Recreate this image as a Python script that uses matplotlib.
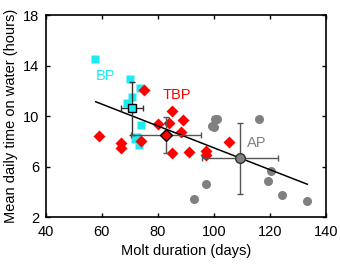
import matplotlib
matplotlib.use("Agg")
import matplotlib.pyplot as plt

plt.rcParams['font.family'] = ['Liberation Sans', 'DejaVu Sans']

# individual birds: molt duration (days), mean daily time on water (hours)
bp_x = [57.6, 70.0, 73.7, 70.9, 69.1, 73.9, 72.5, 73.1, 71.9]
bp_y = [14.5, 12.9, 12.2, 11.5, 11.05, 9.26, 8.36, 7.7, 8.15]

tbp_x = [75.1, 85.0, 80.1, 84.1, 89.1, 88.2, 59.0, 66.8, 66.8, 73.9, 85.0, 91.0, 105.2, 97.0, 97.0]
tbp_y = [12.1, 10.4, 9.34, 9.47, 9.68, 8.7, 8.41, 7.84, 7.44, 8.05, 7.05, 7.17, 7.96, 7.25, 6.9]

ap_x = [100.2, 101.0, 99.2, 99.9, 116.1, 97.0, 93.0, 120.3, 119.3, 124.3, 133.1]
ap_y = [9.8, 9.8, 9.2, 9.1, 9.76, 4.6, 3.4, 5.64, 4.85, 3.74, 3.29]

# group means and SD
mean_x = [70.7, 82.9, 109.3]
mean_y = [10.6, 8.5, 6.65]
sd_x = [3.9, 12.6, 13.6]
sd_y = [2.1, 1.45, 2.83]

# regression line end points (x) and fit
fit_x = [57.8, 133.3]
fit_slope = -0.0865
fit_icpt = 16.13

fig = plt.figure(figsize=(3.4, 2.68), dpi=100)
ax = fig.add_axes([0.135, 0.19, 0.824, 0.754])

cyan = '#1EEAF2'
red = '#FF0000'
grey = '#808080'

ax.plot(bp_x, bp_y, 's', color=cyan, ms=6, mec='none', zorder=2)
ax.plot(tbp_x, tbp_y, 'D', color=red, ms=6, mec='none', zorder=2)
ax.plot(ap_x, ap_y, 'o', color=grey, ms=6.5, mec='none', zorder=2)

fit_y = [fit_icpt + fit_slope * v for v in fit_x]
ax.plot(fit_x, fit_y, '-', color='black', lw=1.1, zorder=3)

ax.errorbar(mean_x[0], mean_y[0], xerr=sd_x[0], yerr=sd_y[0], fmt='s', color='#333333',
            mfc=cyan, mec='black', ms=6, capsize=2.5, elinewidth=1, zorder=4)
ax.errorbar(mean_x[1], mean_y[1], xerr=sd_x[1], yerr=sd_y[1], fmt='D', color='#555555',
            mfc=red, mec='black', ms=6, capsize=2.5, elinewidth=1, zorder=4)
ax.errorbar(mean_x[2], mean_y[2], xerr=sd_x[2], yerr=sd_y[2], fmt='o', color='#555555',
            mfc=grey, mec='#333333', ms=7, capsize=2.5, elinewidth=1, zorder=4)

ax.text(61.4, 13.2, 'BP', color=cyan, fontsize=10.5, ha='center', va='center')
ax.text(86.7, 11.7, 'TBP', color=red, fontsize=10.5, ha='center', va='center')
ax.text(115.4, 7.9, 'AP', color=grey, fontsize=10.5, ha='center', va='center')

ax.set_xlim(40, 140)
ax.set_ylim(2, 18)
ax.set_xticks([40, 60, 80, 100, 120, 140])
ax.set_yticks([2, 6, 10, 14, 18])
ax.tick_params(direction='in', top=True, right=True, length=3, width=1, labelsize=10.5)
ax.tick_params(axis='x', pad=6)
ax.tick_params(axis='y', pad=5)
for s in ax.spines.values():
    s.set_linewidth(1.2)
ax.set_xlabel('Molt duration (days)', fontsize=10.5, labelpad=3)
ax.set_ylabel('Mean daily time on water (hours)', fontsize=10.5, labelpad=3)

fig.savefig('out.png', dpi=100)
